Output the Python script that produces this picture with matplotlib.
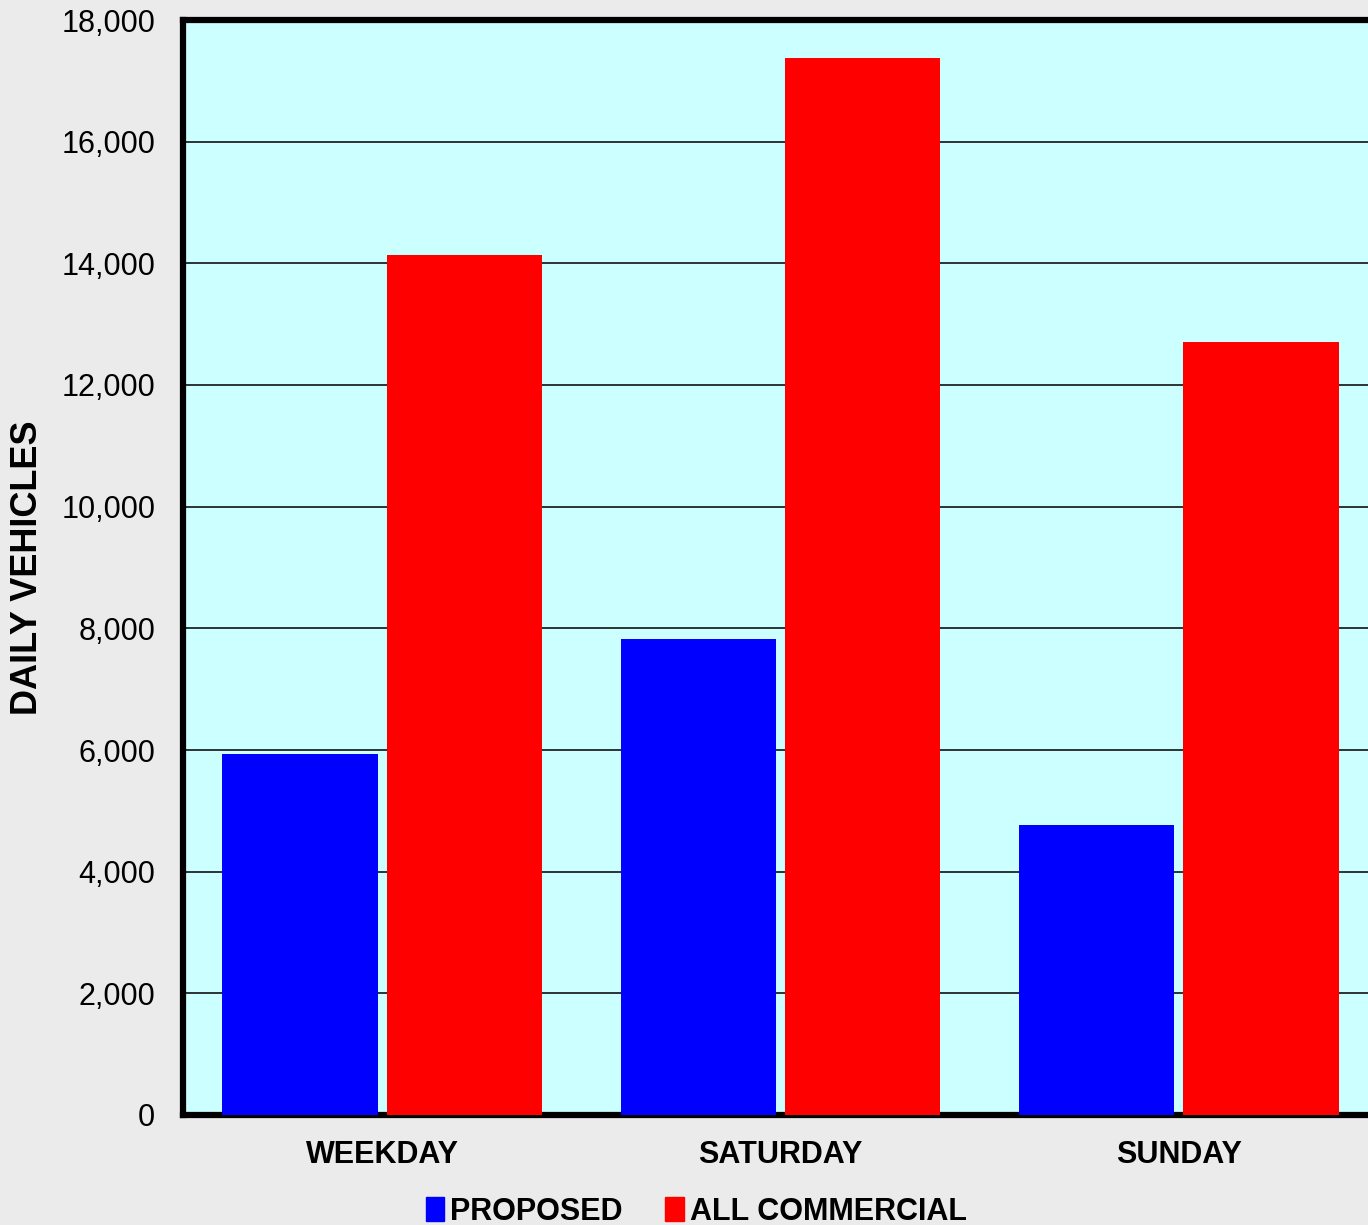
import matplotlib.pyplot as plt
import numpy as np
from matplotlib.patches import Patch

# data
days = ['WEEKDAY', 'SATURDAY', 'SUNDAY']
proposed = [5940, 7830, 4770]
all_commercial = [14140, 17380, 12710]
yticks = [0, 2000, 4000, 6000, 8000, 10000, 12000, 14000, 16000, 18000]

plt.rcParams['font.family'] = ['Liberation Sans', 'DejaVu Sans']

fig = plt.figure(figsize=(13.68, 12.25), dpi=100, facecolor='#ebebeb')
# right edge of the plot runs off the picture, like the original
ax = fig.add_axes([183/1368, 110/1225, 1195/1368, 1095/1225])
ax.set_facecolor('#ccffff')

x = np.arange(len(days))
w = 0.39
ax.bar(x - 0.206, proposed, w, color='#0000ff', zorder=3)
ax.bar(x + 0.206, all_commercial, w, color='#ff0000', zorder=3)

ax.set_xlim(-0.5, 2.5)
ax.set_ylim(0, 18000)
ax.set_yticks(yticks)
ax.set_yticklabels([f'{v:,}' for v in yticks], fontsize=22)
ax.set_xticks(x)
ax.set_xticklabels(days, fontsize=22, fontweight='bold')
ax.tick_params(axis='both', length=0)
ax.tick_params(axis='y', pad=20)
ax.tick_params(axis='x', pad=18)
ax.yaxis.grid(True, color='#111111', lw=1.2, zorder=1)
ax.set_axisbelow(True)

for s in ['left', 'bottom', 'top']:
    ax.spines[s].set_linewidth(4.5)
    ax.spines[s].set_color('black')
ax.spines['right'].set_visible(False)

ax.set_ylabel('DAILY VEHICLES', fontsize=26, fontweight='bold', labelpad=12)

handles = [Patch(color='#0000ff', label='PROPOSED'),
           Patch(color='#ff0000', label='ALL COMMERCIAL')]
fig.legend(handles=handles, loc='center', bbox_to_anchor=(0.509, 0.011), ncol=2,
           frameon=False, prop={'size': 22, 'weight': 'bold'},
           handlelength=0.6, handleheight=0.8, handletextpad=0.2,
           columnspacing=1.4, borderpad=0)

fig.savefig('out.png', dpi=100, facecolor=fig.get_facecolor())
